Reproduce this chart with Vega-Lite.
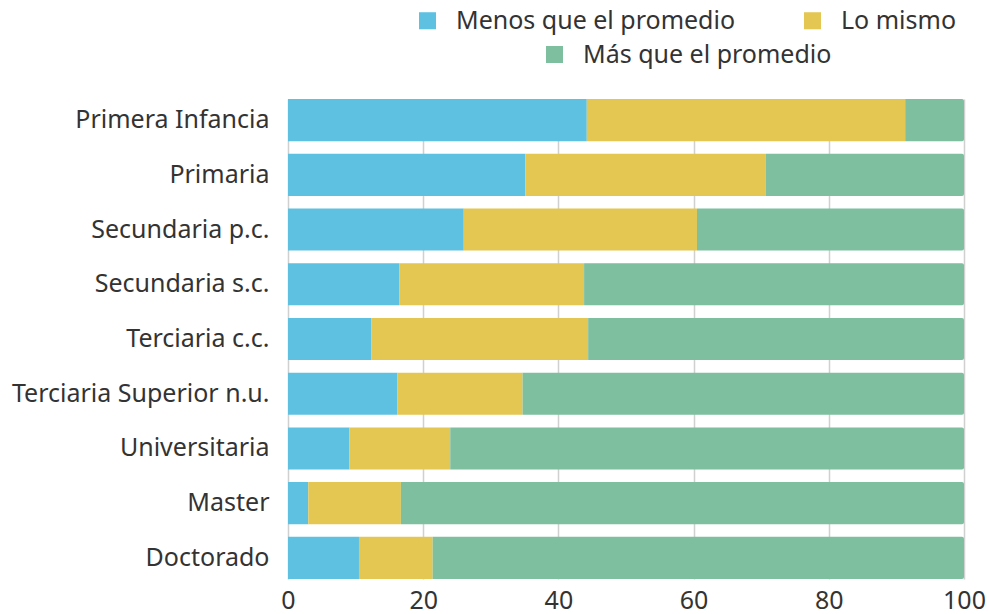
{
  "$schema": "https://vega.github.io/schema/vega-lite/v6.json",
  "width": 676,
  "height": 480,
  "autosize": {"type": "none"},
  "padding": {"left": 288, "top": 99, "right": 25, "bottom": 35},
  "config": {
    "view": {"stroke": null},
    "font": "Noto Sans",
    "axis": {"labelFont": "Noto Sans", "labelColor": "#333333", "labelFontSize": 25},
    "legend": {"labelFont": "Noto Sans", "labelColor": "#333333", "labelFontSize": 25, "labelLimit": 400}
  },
  "data": {
    "values": [
      {"nivel": "Primera Infancia", "categoria": "Menos que el promedio", "valor": 44.2, "orden": 1},
      {"nivel": "Primera Infancia", "categoria": "Lo mismo", "valor": 47.1, "orden": 2},
      {"nivel": "Primera Infancia", "categoria": "Más que el promedio", "valor": 8.7, "orden": 3},
      {"nivel": "Primaria", "categoria": "Menos que el promedio", "valor": 35.1, "orden": 1},
      {"nivel": "Primaria", "categoria": "Lo mismo", "valor": 35.6, "orden": 2},
      {"nivel": "Primaria", "categoria": "Más que el promedio", "valor": 29.3, "orden": 3},
      {"nivel": "Secundaria p.c.", "categoria": "Menos que el promedio", "valor": 26.0, "orden": 1},
      {"nivel": "Secundaria p.c.", "categoria": "Lo mismo", "valor": 34.5, "orden": 2},
      {"nivel": "Secundaria p.c.", "categoria": "Más que el promedio", "valor": 39.5, "orden": 3},
      {"nivel": "Secundaria s.c.", "categoria": "Menos que el promedio", "valor": 16.5, "orden": 1},
      {"nivel": "Secundaria s.c.", "categoria": "Lo mismo", "valor": 27.3, "orden": 2},
      {"nivel": "Secundaria s.c.", "categoria": "Más que el promedio", "valor": 56.2, "orden": 3},
      {"nivel": "Terciaria c.c.", "categoria": "Menos que el promedio", "valor": 12.3, "orden": 1},
      {"nivel": "Terciaria c.c.", "categoria": "Lo mismo", "valor": 32.1, "orden": 2},
      {"nivel": "Terciaria c.c.", "categoria": "Más que el promedio", "valor": 55.6, "orden": 3},
      {"nivel": "Terciaria Superior n.u.", "categoria": "Menos que el promedio", "valor": 16.2, "orden": 1},
      {"nivel": "Terciaria Superior n.u.", "categoria": "Lo mismo", "valor": 18.5, "orden": 2},
      {"nivel": "Terciaria Superior n.u.", "categoria": "Más que el promedio", "valor": 65.3, "orden": 3},
      {"nivel": "Universitaria", "categoria": "Menos que el promedio", "valor": 9.1, "orden": 1},
      {"nivel": "Universitaria", "categoria": "Lo mismo", "valor": 14.9, "orden": 2},
      {"nivel": "Universitaria", "categoria": "Más que el promedio", "valor": 76.0, "orden": 3},
      {"nivel": "Master", "categoria": "Menos que el promedio", "valor": 3.0, "orden": 1},
      {"nivel": "Master", "categoria": "Lo mismo", "valor": 13.7, "orden": 2},
      {"nivel": "Master", "categoria": "Más que el promedio", "valor": 83.3, "orden": 3},
      {"nivel": "Doctorado", "categoria": "Menos que el promedio", "valor": 10.5, "orden": 1},
      {"nivel": "Doctorado", "categoria": "Lo mismo", "valor": 10.9, "orden": 2},
      {"nivel": "Doctorado", "categoria": "Más que el promedio", "valor": 78.6, "orden": 3}
    ]
  },
  "transform": [
    {"stack": "valor", "groupby": ["nivel"], "sort": [{"field": "orden", "order": "ascending"}], "as": ["x0", "x1"]}
  ],
  "encoding": {
    "y": {
      "field": "nivel",
      "type": "nominal",
      "sort": ["Primera Infancia", "Primaria", "Secundaria p.c.", "Secundaria s.c.", "Terciaria c.c.", "Terciaria Superior n.u.", "Universitaria", "Master", "Doctorado"],
      "scale": {"paddingInner": 0.23, "paddingOuter": 0},
      "axis": {"title": null, "domain": false, "ticks": false, "labelPadding": 19, "minExtent": 283, "maxExtent": 283, "labelLimit": 300}
    },
    "x": {
      "field": "x0",
      "type": "quantitative",
      "scale": {"domain": [0, 100], "nice": false},
      "axis": {"title": null, "domain": false, "ticks": false, "values": [0, 20, 40, 60, 80, 100], "grid": true, "gridColor": "#d0d0d0", "gridWidth": 1.5, "labelPadding": 9, "labelFlush": false}
    },
    "x2": {"field": "x1"}
  },
  "layer": [
    {
      "transform": [{"filter": "datum.orden < 3"}],
      "mark": {"type": "bar"},
      "encoding": {
        "color": {
          "field": "categoria",
          "type": "nominal",
          "scale": {"domain": ["Menos que el promedio", "Lo mismo"], "range": ["#5EC1E2", "#E3C752"]},
          "legend": {"title": null, "orient": "none", "legendX": 127, "legendY": -91, "direction": "horizontal", "symbolType": "square", "symbolSize": 290, "symbolStrokeWidth": 0, "symbolOpacity": 1, "labelOffset": 16, "columnPadding": 64}
        }
      }
    },
    {
      "transform": [{"filter": "datum.orden == 3"}],
      "mark": {"type": "bar", "cornerRadiusTopRight": 2, "cornerRadiusBottomRight": 2},
      "encoding": {
        "color": {
          "field": "categoria",
          "type": "nominal",
          "scale": {"domain": ["Más que el promedio"], "range": ["#7DBF9F"]},
          "legend": {"title": null, "orient": "none", "legendX": 254, "legendY": -57, "direction": "horizontal", "symbolType": "square", "symbolSize": 290, "symbolStrokeWidth": 0, "symbolOpacity": 1, "labelOffset": 16}
        }
      }
    }
  ],
  "resolve": {"scale": {"color": "independent"}, "legend": {"color": "independent"}}
}
